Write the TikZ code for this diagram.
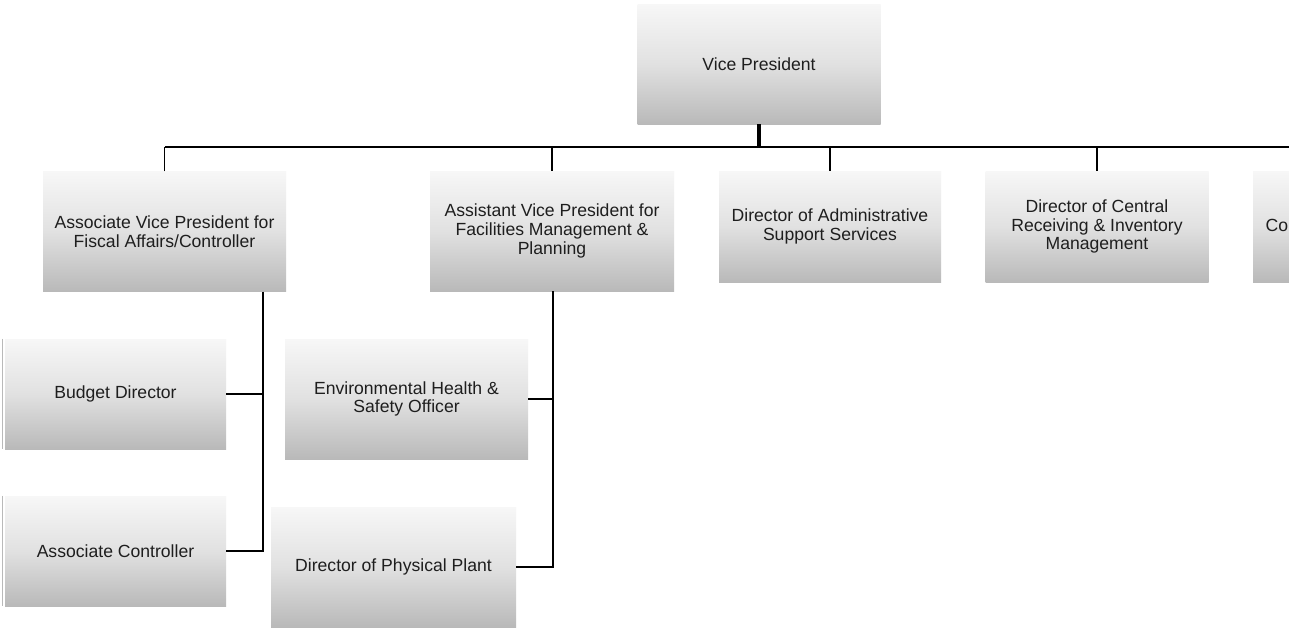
\documentclass[tikz,border=0pt]{standalone}
\usepackage{fontspec}
\setmainfont{Liberation Sans}
\definecolor{boxtop}{HTML}{F7F7F7}
\definecolor{boxmid}{HTML}{E1E1E1}
\definecolor{boxbot}{HTML}{B9B9B9}
\definecolor{txt}{HTML}{1E1E1E}
\tikzset{
  box/.style={rectangle, inner sep=0pt, align=center, text=txt,
    top color=boxtop, bottom color=boxbot, middle color=boxmid,
    font=\fontsize{17.6}{18.6}\selectfont},
  bigbox/.style={box, minimum width=243pt, minimum height=120pt},
  smallbox/.style={box, minimum width=222pt, minimum height=111pt},
  bus/.style={line width=2pt},
  drop/.style={line width=1.3pt},
  spine/.style={line width=2.4pt},
  branch/.style={line width=2pt},
  edgeline/.style={gray!55, line width=0.6pt}
}
\begin{document}
\begin{tikzpicture}[x=1pt,y=-1pt]
\useasboundingbox (0,0) rectangle (1289,629);
\clip (0,0) rectangle (1289,629);
\fill[white] (0,0) rectangle (1289,629);

% nodes
\node[bigbox] (vp) at (759,64) {Vice President};
\node[bigbox] (avpf) at (164.5,231.5) {Associate Vice President for\\Fiscal Affairs/Controller};
\node[bigbox, minimum width=244pt] (avpfm) at (552,231) {Assistant Vice President for\\Facilities Management \&\\Planning};
\node[smallbox] (das) at (830,226.5) {Director of Administrative\\Support Services};
\node[smallbox, minimum width=223pt] (dcr) at (1097,226.5) {Director of Central\\Receiving \& Inventory\\Management};
\node[smallbox, minimum width=223pt] (cut) at (1364.5,226.5) {};
\node[anchor=base west, text=txt, font=\fontsize{17.6}{18.6}\selectfont] (cuttext) at (1262,231) {Co};
\node[smallbox, minimum width=221pt, minimum height=110pt] (bud) at (115.5,394) {Budget Director};
\node[smallbox, minimum width=221pt, minimum height=110pt] (ac) at (115.5,551) {Associate Controller};
\node[bigbox] (env) at (406.5,399) {Environmental Health \&\\Safety Officer};
\node[bigbox, minimum width=245pt] (dpp) at (393.5,567) {Director of Physical Plant};

% thin left edges
\draw[edgeline] ([xshift=-2.5pt]bud.north west) -- ([xshift=-2.5pt]bud.south west);
\draw[edgeline] ([xshift=-2.5pt]ac.north west) -- ([xshift=-2.5pt]ac.south west);

% bus
\coordinate (busL) at (165,147);
\coordinate (busR) at (1300,147);
\draw[bus] (busL) -- (busR);
\draw[line width=3.2pt] (vp.south) -- (vp.south |- busL);
\draw[drop] (avpf.north) -- (avpf.north |- busL);
\draw[drop] (avpfm.north) -- (avpfm.north |- busL);
\draw[drop] (das.north) -- (das.north |- busL);
\draw[drop] (dcr.north) -- (dcr.north |- busL);

% fiscal branch
\coordinate (fspine) at (263,291.5);
\draw[spine] (fspine) -- (fspine |- ac.east);
\draw[branch] (bud.east) -- (bud.east -| fspine);
\draw[branch] (ac.east) -- ([xshift=1.2pt]ac.east -| fspine);

% facilities branch
\coordinate (mspine) at (553,291);
\draw[spine] (mspine) -- (mspine |- dpp.east);
\draw[branch] (env.east) -- (env.east -| mspine);
\draw[branch] (dpp.east) -- ([xshift=1.2pt]dpp.east -| mspine);
\end{tikzpicture}
\end{document}
